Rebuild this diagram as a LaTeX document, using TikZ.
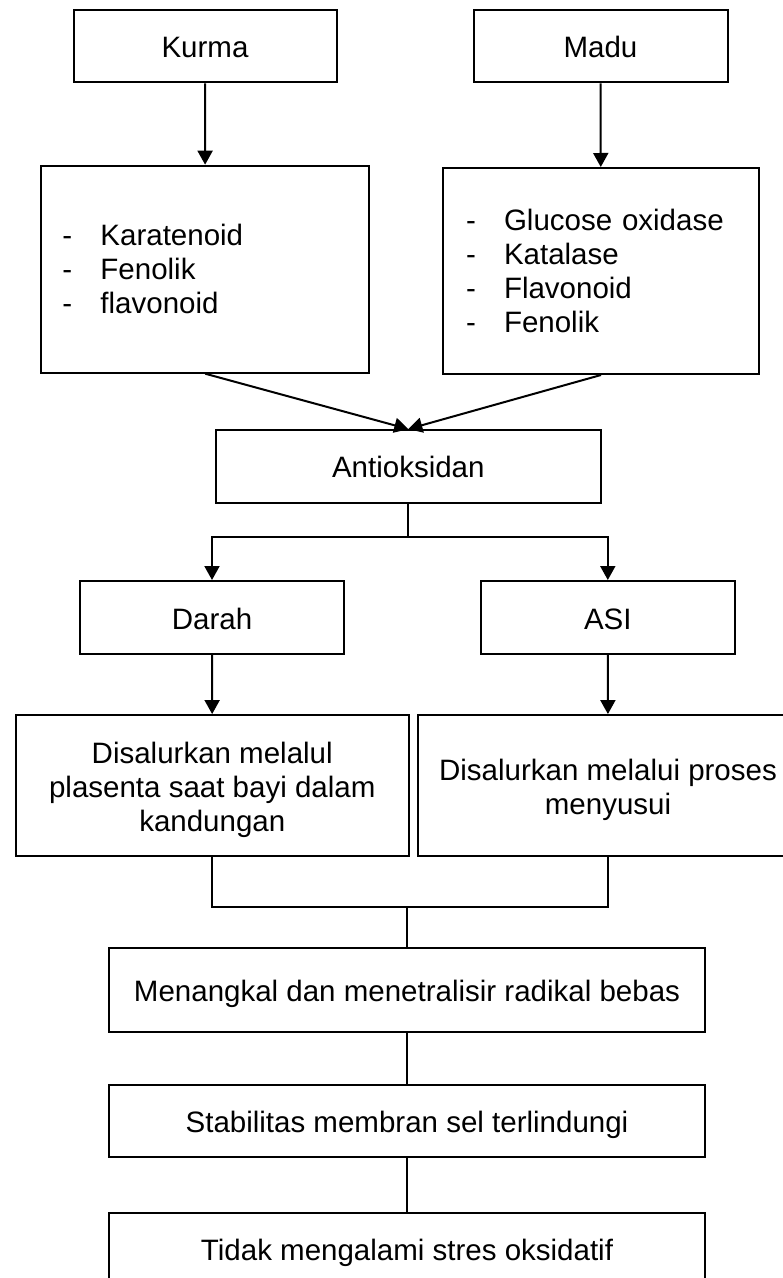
\documentclass[tikz,border=0pt]{standalone}
\usepackage{fontspec}
\setmainfont{Liberation Sans}
\usetikzlibrary{arrows.meta, positioning, calc}
\tikzset{
  box/.style   = {draw, line width=1pt, align=center, inner sep=0pt,
                  font=\fontsize{14.75}{17}\selectfont},
  tbox/.style  = {box, text height=11.5pt, text depth=0pt},
  lbox/.style  = {box, align=left},
  arrow/.style = {-{Triangle[length=7pt, width=7.5pt]}, line width=1pt},
  link/.style  = {line width=1pt},
}
\newcommand{\dashitem}[1]{\makebox[19pt][l]{-}#1}
\newcommand{\topstrut}{\rule{0pt}{15.6pt}}

\begin{document}
\begin{tikzpicture}[x=0.5pt, y=-0.5pt]
  \useasboundingbox (0,0) rectangle (782,1278);
  % sources
  \node[tbox, minimum width=131.5pt, minimum height=36pt] (kurma) at (205,46.4) {Kurma};
  \node[tbox, minimum width=127pt, minimum height=36pt] (madu) at (600.5,46.4) {Madu};
  % contents
  \node[lbox, minimum height=103.5pt, text width=142.75pt, inner xsep=10.5pt]
    (kurmalist) at (205.2,269.2)
    {\dashitem{Karatenoid}\\ \dashitem{Fenolik}\\ \dashitem{flavonoid}};
  \node[lbox, minimum height=103pt, text width=135pt, inner xsep=11.5pt]
    (madulist) at (601,271)
    {\dashitem{Glucose oxidase}\\ \dashitem{Katalase}\\ \dashitem{Flavonoid}\\ \dashitem{Fenolik}};
  \node[tbox, minimum width=192.75pt, minimum height=36.35pt] (antioks) at (408.3,466.4) {Antioksidan};
  % routes
  \node[tbox, minimum width=132pt, minimum height=36.5pt] (darah) at (212,617.5) {Darah};
  \node[tbox, minimum width=127.25pt, minimum height=36.5pt] (asi) at (607.8,617.5) {ASI};
  \node[box, minimum width=196.25pt, minimum height=70.35pt] (plasenta) at (212.25,785.4)
    {\topstrut Disalurkan melalul\\ plasenta saat bayi dalam\\ kandungan};
  \node[box, minimum width=190.5pt, minimum height=70.35pt] (menyusui) at (608,785.4)
    {\topstrut Disalurkan melalui proses\\ menyusui};
  % effects
  \node[tbox, minimum width=298pt, minimum height=41.85pt] (menangkal) at (407,990)
    {Menangkal dan menetralisir radikal bebas};
  \node[tbox, minimum width=298pt, minimum height=36.15pt] (stabil) at (407,1121)
    {Stabilitas membran sel terlindungi};
  \node[tbox, minimum width=298pt, minimum height=36pt] (tidak) at (407,1249)
    {Tidak mengalami stres oksidatif};

  \coordinate (split) at (408.3,536.7);
  \coordinate (join) at (407,906.7);

  \draw[arrow] (kurma) -- (kurmalist);
  \draw[arrow] (madu) -- (madulist);
  \draw[arrow] (kurmalist.south) -- (antioks.north);
  \draw[arrow] (madulist.south) -- (antioks.north);
  \draw[link] (antioks) -- (split);
  \draw[arrow] (split) -| (darah);
  \draw[arrow] (split) -| (asi);
  \draw[arrow] (darah) -- (plasenta);
  \draw[arrow] (asi) -- (menyusui);
  \draw[link] (plasenta) |- (join) -| (menyusui);
  \draw[link] (join) -- (menangkal);
  \draw[link] (menangkal) -- (stabil);
  \draw[link] (stabil) -- (tidak);
\end{tikzpicture}
\end{document}
